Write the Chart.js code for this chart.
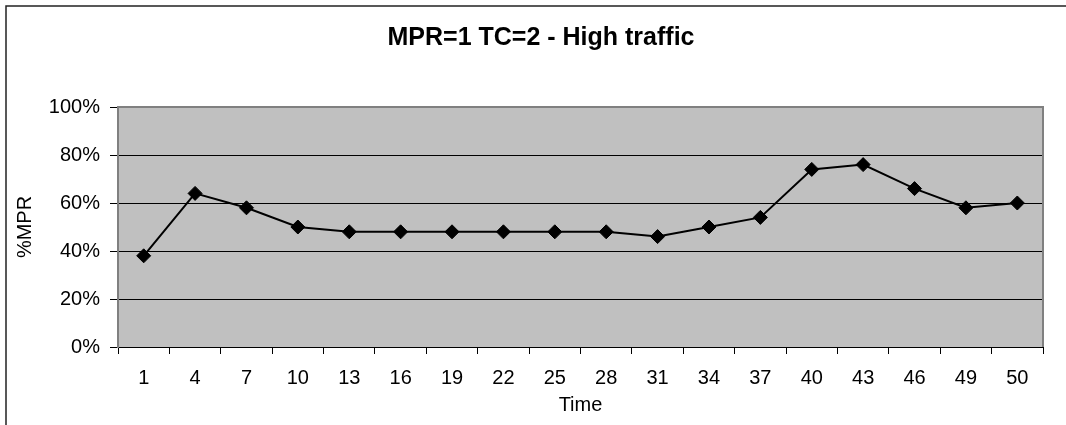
<!DOCTYPE html>
<html>
<head>
<meta charset="utf-8">
<script src="https://cdn.jsdelivr.net/npm/chart.js@4.4.1/dist/chart.umd.min.js"></script>
<style>
  html, body { margin: 0; padding: 0; background: #fff; }
  #wrap { width: 1066px; height: 425px; position: relative; }
</style>
</head>
<body>
<div id="wrap"><canvas id="mprChart"></canvas></div>
<script>
const timeLabels = ['1', '4', '7', '10', '13', '16', '19', '22', '25', '28', '31', '34', '37', '40', '43', '46', '49', '50'];
const mprValues = [38, 64, 58, 50, 48, 48, 48, 48, 48, 48, 46, 50, 54, 74, 76, 66, 58, 60];
const chartTitle = 'MPR=1 TC=2 - High traffic';

const FONT = "'Liberation Sans', Arial, sans-serif";

// frame, gray plot background and title
const frame = {
    id: 'frame',
    beforeDraw(chart) {
        const { ctx, chartArea: a } = chart;
        ctx.save();
        ctx.fillStyle = '#fff';
        ctx.fillRect(0, 0, chart.width, chart.height);
        ctx.strokeStyle = '#222';
        ctx.lineWidth = 1.5;
        ctx.beginPath();
        ctx.moveTo(6, chart.height);
        ctx.lineTo(6, 6);
        ctx.lineTo(chart.width, 6);
        ctx.stroke();
        ctx.fillStyle = '#c0c0c0';
        ctx.fillRect(a.left, a.top, a.right - a.left, a.bottom - a.top);
        ctx.fillStyle = '#000';
        ctx.font = 'bold 25px ' + FONT;
        ctx.textAlign = 'center';
        ctx.textBaseline = 'alphabetic';
        ctx.fillText(chartTitle, 541, 45);
        ctx.restore();
    },
    beforeDatasetsDraw(chart) {
        const { ctx, chartArea: a } = chart;
        ctx.save();
        ctx.strokeStyle = '#808080';
        ctx.lineWidth = 2;
        ctx.beginPath();
        ctx.moveTo(a.left, a.top);
        ctx.lineTo(a.right, a.top);
        ctx.lineTo(a.right, a.bottom);
        ctx.stroke();
        ctx.restore();
    }
};

new Chart(document.getElementById('mprChart'), {
    type: 'line',
    data: {
        labels: timeLabels,
        datasets: [{
            label: '%MPR',
            data: mprValues,
            borderColor: '#000',
            borderWidth: 2,
            tension: 0,
            pointStyle: 'rectRot',
            pointRadius: 7,
            pointBackgroundColor: '#000',
            pointBorderColor: '#000',
            pointBorderWidth: 1
        }]
    },
    options: {
        responsive: true,
        maintainAspectRatio: false,
        animation: false,
        layout: { padding: { left: 0, right: 23, top: 107, bottom: 0 } },
        plugins: {
            legend: { display: false },
            tooltip: { enabled: false }
        },
        scales: {
            x: {
                offset: true,
                afterFit: s => { s.height = 78; },
                grid: { offset: true, drawOnChartArea: false, drawTicks: true, tickLength: 7, tickColor: '#000' },
                border: { display: true, color: '#000', width: 1 },
                ticks: { color: '#000', font: { family: FONT, size: 20 }, padding: 12, maxRotation: 0, autoSkip: false },
                title: { display: true, text: 'Time', color: '#000', font: { family: FONT, size: 20 }, padding: { top: 0, bottom: 8 } }
            },
            y: {
                min: 0,
                max: 100,
                afterFit: s => { s.width = 118; },
                grid: { color: '#000', lineWidth: 1, tickLength: 8, tickColor: '#000' },
                border: { display: true, color: '#808080', width: 2 },
                ticks: { stepSize: 20, color: '#000', font: { family: FONT, size: 20 }, padding: 10, callback: v => v + '%' },
                title: { display: true, text: '%MPR', color: '#000', font: { family: FONT, size: 20 }, padding: { top: 13, bottom: 0 } }
            }
        }
    },
    plugins: [frame]
});
</script>
</body>
</html>
